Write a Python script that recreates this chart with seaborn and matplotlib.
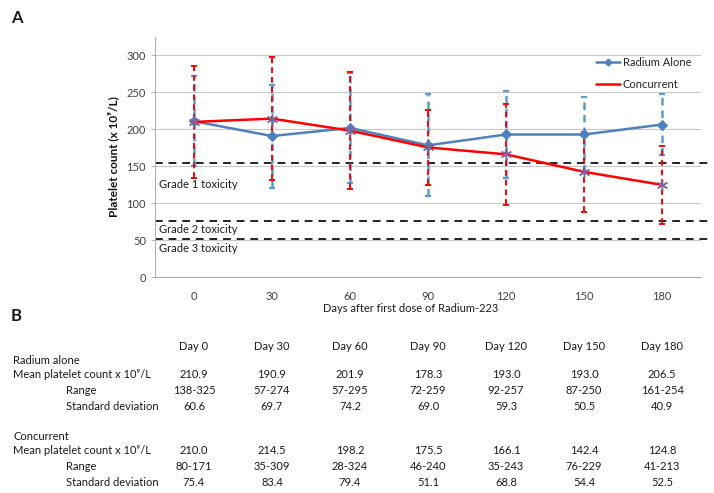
"""Platelet counts after Radium-223, line chart with summary table."""
import matplotlib

matplotlib.use("Agg")
import matplotlib.pyplot as plt
import matplotlib.transforms as mtransforms
from matplotlib.lines import Line2D
import numpy as np
import pandas as pd
import seaborn as sns

days = [0, 30, 60, 90, 120, 150, 180]
radium_mean = [210.9, 190.9, 201.9, 178.3, 193.0, 193.0, 206.5]
radium_range = ["138-325", "57-274", "57-295", "72-259", "92-257", "87-250", "161-254"]
radium_sd = [60.6, 69.7, 74.2, 69.0, 59.3, 50.5, 40.9]
conc_mean = [210.0, 214.5, 198.2, 175.5, 166.1, 142.4, 124.8]
conc_range = ["80-171", "35-309", "28-324", "46-240", "35-243", "76-229", "41-213"]
conc_sd = [75.4, 83.4, 79.4, 51.1, 68.8, 54.4, 52.5]
grade_levels = [155, 76, 51]
grade_labels = ["Grade 1 toxicity", "Grade 2 toxicity", "Grade 3 toxicity"]
grade_text_y = [125, 64, 39]

sns.set_theme(style="white")
plt.rcParams["font.family"] = ["Lato", "DejaVu Sans"]

BLUE = "#4f81bd"
BLUE_BAR = "#5b9bd5"
RED = "#ff0000"
GREY = "#404040"
TXT = "#1a1a1a"

pos = np.arange(len(days))
df = pd.DataFrame({"pos": pos, "radium": radium_mean, "conc": conc_mean})

fig = plt.figure(figsize=(7.14, 4.93), dpi=100)
ax = fig.add_axes([0.217, 0.438, 0.765, 0.487])

# error bars (mean +/- SD)
eb = ax.errorbar(pos, radium_mean, yerr=radium_sd, fmt="none", ecolor=BLUE_BAR,
                 elinewidth=1.8, capsize=2, capthick=1.6, zorder=3)
eb[2][0].set_linestyle((0, (3, 2)))
eb = ax.errorbar(pos, conc_mean, yerr=conc_sd, fmt="none", ecolor=RED,
                 elinewidth=1.4, capsize=2, capthick=1.4, zorder=4)
eb[2][0].set_linestyle((0, (3, 2)))

sns.lineplot(data=df, x="pos", y="radium", color=BLUE, marker="D", markersize=5,
             markeredgecolor=BLUE, linewidth=1.8, ax=ax, zorder=5)
sns.lineplot(data=df, x="pos", y="conc", color=RED, linewidth=1.8, ax=ax, zorder=6)
ax.plot(pos, conc_mean, linestyle="none", marker=(6, 2, 0), markersize=8,
        markeredgecolor="#8064a2", markeredgewidth=1.0, zorder=7)

for lvl, lab, ty in zip(grade_levels, grade_labels, grade_text_y):
    ax.axhline(lvl, color="#222222", linestyle=(0, (4, 3)), linewidth=1.4,
               xmax=1.02, clip_on=False, zorder=2)
    ax.text(-0.45, ty, lab, fontsize=8, color=TXT, va="center", ha="left")

ax.set_xlim(-0.5, 6.5)
ax.set_ylim(0, 325)
ax.set_yticks(np.arange(0, 301, 50))
ax.set_xticks(pos)
ax.set_xticklabels([str(d) for d in days])
ax.tick_params(axis="x", length=0, pad=10, labelsize=8, colors=GREY)
ax.tick_params(axis="y", length=3, width=0.6, color="#a0a0a0", left=True,
               labelsize=8, colors=GREY)
ax.yaxis.grid(True, color="#c8c8c8", linewidth=0.8)
ax.set_axisbelow(True)
for side in ["top", "right"]:
    ax.spines[side].set_visible(False)
for side in ["left", "bottom"]:
    ax.spines[side].set_color("#b0b0b0")
    ax.spines[side].set_linewidth(0.8)
ax.set_xlabel("")
ax.set_ylabel("Platelet count (x 10⁹/L)", fontsize=8.5, fontweight="bold",
              labelpad=5, color="#111111")

handles = [
    Line2D([], [], color=BLUE, marker="D", markersize=3.5, linewidth=1.8),
    Line2D([], [], color=RED, linewidth=1.8),
]
ax.legend(handles, ["Radium Alone", "Concurrent"], loc="upper right",
          bbox_to_anchor=(1.0, 0.96), frameon=False, fontsize=8,
          handlelength=2.2, handletextpad=0.2, labelspacing=1.0)

fig.text(0.015, 0.98, "A", fontsize=12, fontweight="bold", va="top", color=TXT)
fig.text(0.015, 0.375, "B", fontsize=12, fontweight="bold", va="top", color=TXT)
fig.text(0.575, 0.375, "Days after first dose of Radium-223", fontsize=8,
         ha="center", va="center", color=TXT)

# summary table below, columns aligned with the x categories
tr = mtransforms.blended_transform_factory(ax.transData, fig.transFigure)
fs = 8
row_y = {"head": 1 - 346 / 493, "r_mean": 1 - 375 / 493, "r_range": 1 - 391 / 493,
         "r_sd": 1 - 407 / 493, "c_mean": 1 - 451 / 493, "c_range": 1 - 466 / 493,
         "c_sd": 1 - 482 / 493}
for i, d in enumerate(days):
    kw = dict(transform=tr, ha="center", va="center", fontsize=fs, color=TXT)
    fig.text(i, row_y["head"], f"Day {d}", **kw)
    fig.text(i, row_y["r_mean"], f"{radium_mean[i]:.1f}", **kw)
    fig.text(i, row_y["r_range"], radium_range[i], **kw)
    fig.text(i, row_y["r_sd"], f"{radium_sd[i]:.1f}", **kw)
    fig.text(i, row_y["c_mean"], f"{conc_mean[i]:.1f}", **kw)
    fig.text(i, row_y["c_range"], conc_range[i], **kw)
    fig.text(i, row_y["c_sd"], f"{conc_sd[i]:.1f}", **kw)

x0, x1 = 13 / 714, 66 / 714
kw = dict(va="center", fontsize=fs, color=TXT)
fig.text(x0, 1 - 361 / 493, "Radium alone", **kw)
fig.text(x0, row_y["r_mean"], "Mean platelet count x 10⁹/L", **kw)
fig.text(x1, row_y["r_range"], "Range", **kw)
fig.text(x1, row_y["r_sd"], "Standard deviation", **kw)
fig.text(x0, 1 - 436 / 493, "Concurrent", **kw)
fig.text(x0, row_y["c_mean"], "Mean platelet count x 10⁹/L", **kw)
fig.text(x1, row_y["c_range"], "Range", **kw)
fig.text(x1, row_y["c_sd"], "Standard deviation", **kw)

fig.savefig("out.png", dpi=100)
